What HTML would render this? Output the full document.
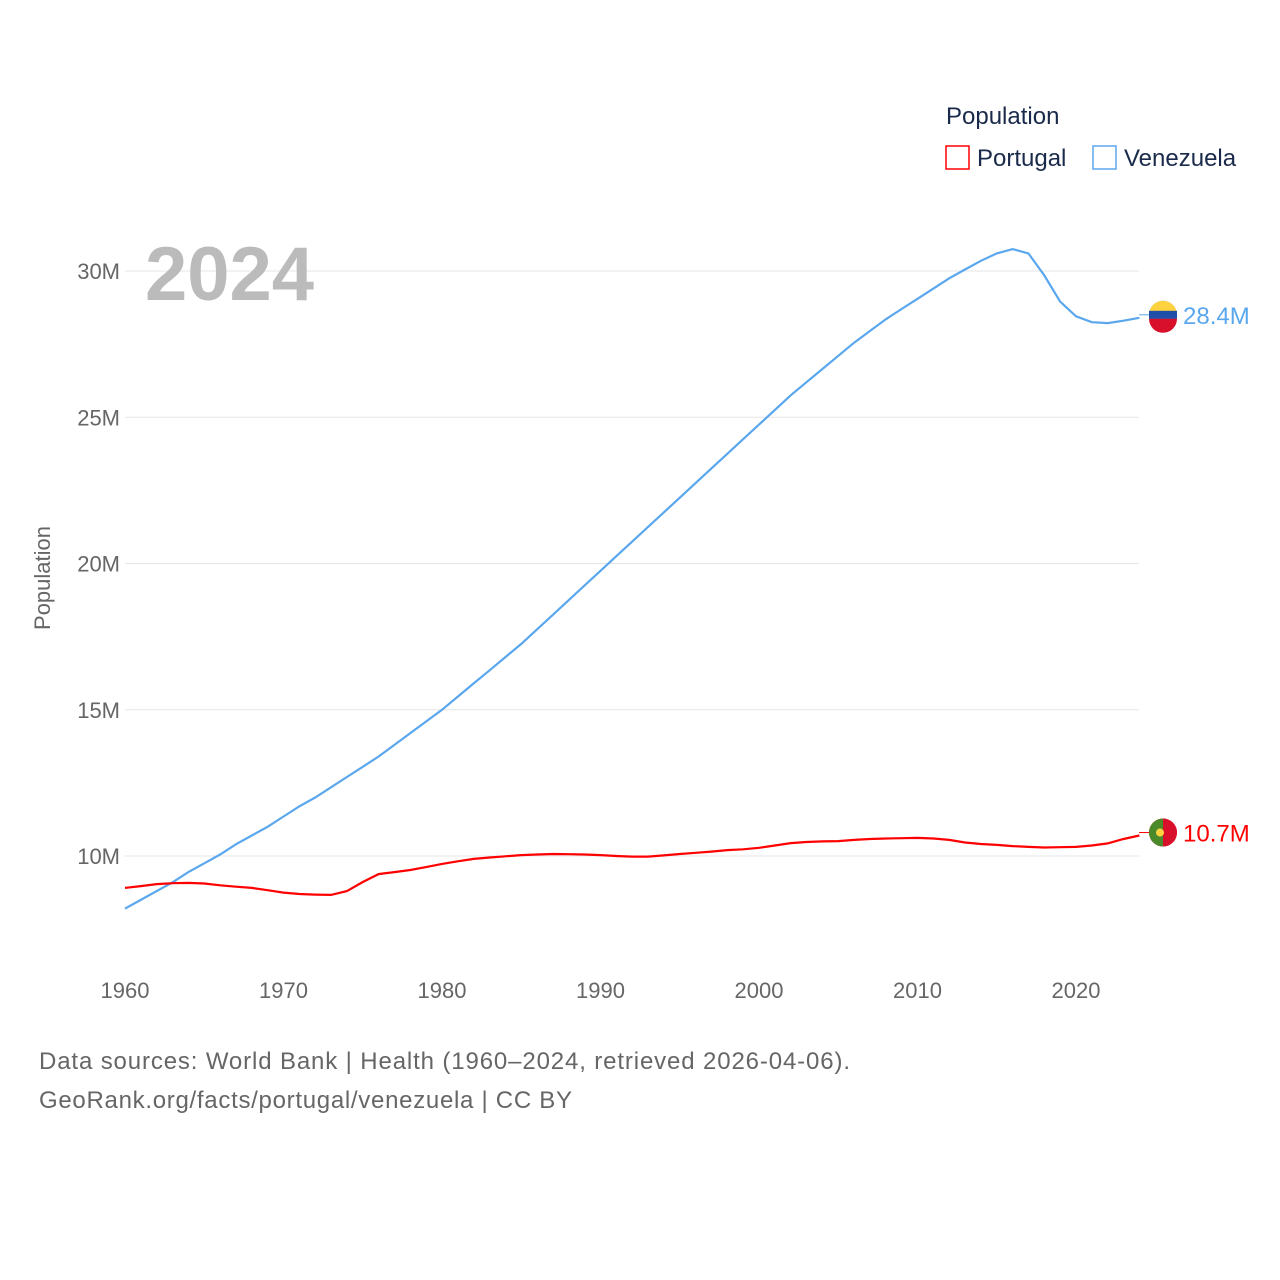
<!DOCTYPE html>
<html><head><meta charset="utf-8"><style>
html,body{margin:0;padding:0;background:#fff;width:1280px;height:1280px;overflow:hidden;font-family:"Liberation Sans",sans-serif}
</style></head><body>
<svg width="1280" height="1280" xmlns="http://www.w3.org/2000/svg">
<g id="grid"></g>
<g id="yt" font-size="22" fill="#666" text-anchor="end"></g>
<g id="xt" font-size="22" fill="#666" text-anchor="middle"></g>
<text x="145" y="300" font-size="76" font-weight="bold" fill="#bbb">2024</text>
<text transform="translate(50,578) rotate(-90)" text-anchor="middle" font-size="22" fill="#666">Population</text>
<g id="lines"></g>
<g>
<text x="946" y="124" font-size="24" fill="#1a2a4a">Population</text>
<g><rect x="946" y="146" width="23" height="23" fill="none" stroke="#f00" stroke-width="1.5"/><text x="977" y="166" font-size="24" fill="#1a2a4a">Portugal</text></g>
<g><rect x="1093" y="146" width="23" height="23" fill="none" stroke="#5aa7ee" stroke-width="1.5"/><text x="1124" y="166" font-size="24" fill="#1a2a4a">Venezuela</text></g>
</g>
<g id="ends"></g>
<text x="39" y="1069" font-size="24" fill="#666" textLength="811" lengthAdjust="spacing">Data sources: World Bank | Health (1960–2024, retrieved 2026-04-06).</text>
<text x="39" y="1108" font-size="24" fill="#666" textLength="533" lengthAdjust="spacing">GeoRank.org/facts/portugal/venezuela | CC BY</text>
</svg>
<script>
const years=[];for(let y=1960;y<=2024;y++)years.push(y);
const venezuela=[8.2,8.5,8.8,9.1,9.45,9.75,10.05,10.4,10.7,11.0,11.35,11.7,12.0,12.35,12.7,13.05,13.4,13.8,14.2,14.6,15.0,15.45,15.9,16.35,16.8,17.25,17.75,18.25,18.75,19.25,19.75,20.25,20.75,21.25,21.75,22.25,22.75,23.25,23.75,24.25,24.75,25.25,25.75,26.2,26.65,27.1,27.55,27.95,28.35,28.7,29.05,29.4,29.75,30.05,30.35,30.6,30.75,30.6,29.85,28.95,28.45,28.25,28.22,28.3,28.4];
const portugal=[8.91,8.97,9.04,9.07,9.08,9.06,9.0,8.95,8.91,8.83,8.75,8.7,8.68,8.67,8.8,9.11,9.38,9.45,9.52,9.62,9.73,9.82,9.9,9.95,9.99,10.03,10.05,10.07,10.06,10.05,10.03,10.0,9.98,9.98,10.02,10.07,10.11,10.15,10.2,10.23,10.28,10.36,10.44,10.48,10.5,10.51,10.55,10.58,10.6,10.61,10.62,10.6,10.55,10.46,10.41,10.38,10.34,10.31,10.29,10.3,10.31,10.36,10.43,10.58,10.7];
const yTicks=[10,15,20,25,30];
const xTicks=[1960,1970,1980,1990,2000,2010,2020];
const X=y=>125+(y-1960)*15.85, Y=v=>856-(v-10)*29.25;
const NS='http://www.w3.org/2000/svg';
function mk(t,a,p){const e=document.createElementNS(NS,t);for(const k in a)e.setAttribute(k,a[k]);p.appendChild(e);return e;}
const grid=document.getElementById('grid'),yt=document.getElementById('yt'),xt=document.getElementById('xt');
yTicks.forEach(v=>{const l=mk('line',{x1:125,x2:1139,y1:Y(v),y2:Y(v),stroke:'#e6e6e6','stroke-width':1},grid);


const t=mk('text',{x:120,y:Y(v)+8},yt);t.textContent=v+'M';

});
xTicks.forEach(v=>{const t=mk('text',{x:X(v),y:998},xt);t.textContent=v;

});
const lines=document.getElementById('lines'),ends=document.getElementById('ends');
function series(data,color,name,label){
const p=mk('path',{d:data.map((v,i)=>(i?'L':'M')+X(years[i]).toFixed(1)+','+Y(v).toFixed(1)).join(''),fill:'none',stroke:color,'stroke-width':2.2},lines);


const last=data[data.length-1],ly=Y(last)-3;
mk('line',{x1:1139,x2:1150,y1:ly,y2:ly,stroke:color,'stroke-width':1},ends);
const c=mk('circle',{cx:1163,cy:ly,r:14,fill:color},ends);


const t=mk('text',{x:1183,y:ly+9,'font-size':24,fill:color},ends);t.textContent=label;


return ly;}
const vy=series(venezuela,'#5aa7ee','venezuela','28.4M');
const py=series(portugal,'#f00','portugal','10.7M');
mk('path',{d:`M1149,${vy} a14,14 0 0 1 28,0 z`,fill:'#ffd23f'},ends);
mk('rect',{x:1149,y:vy-4,width:28,height:8,fill:'#1f4fa8'},ends);
mk('path',{d:`M1149,${vy+4} h28 a14,14 0 0 1 -28,0 z`,fill:'#d8102b'},ends);
mk('path',{d:`M1163,${py-14} a14,14 0 0 0 0,28 z`,fill:'#4a8a2a'},ends);
mk('path',{d:`M1163,${py-14} a14,14 0 0 1 0,28 z`,fill:'#d8102b'},ends);
mk('circle',{cx:1160,cy:py,r:4,fill:'#ffd23f'},ends);
</script>
</body></html>
